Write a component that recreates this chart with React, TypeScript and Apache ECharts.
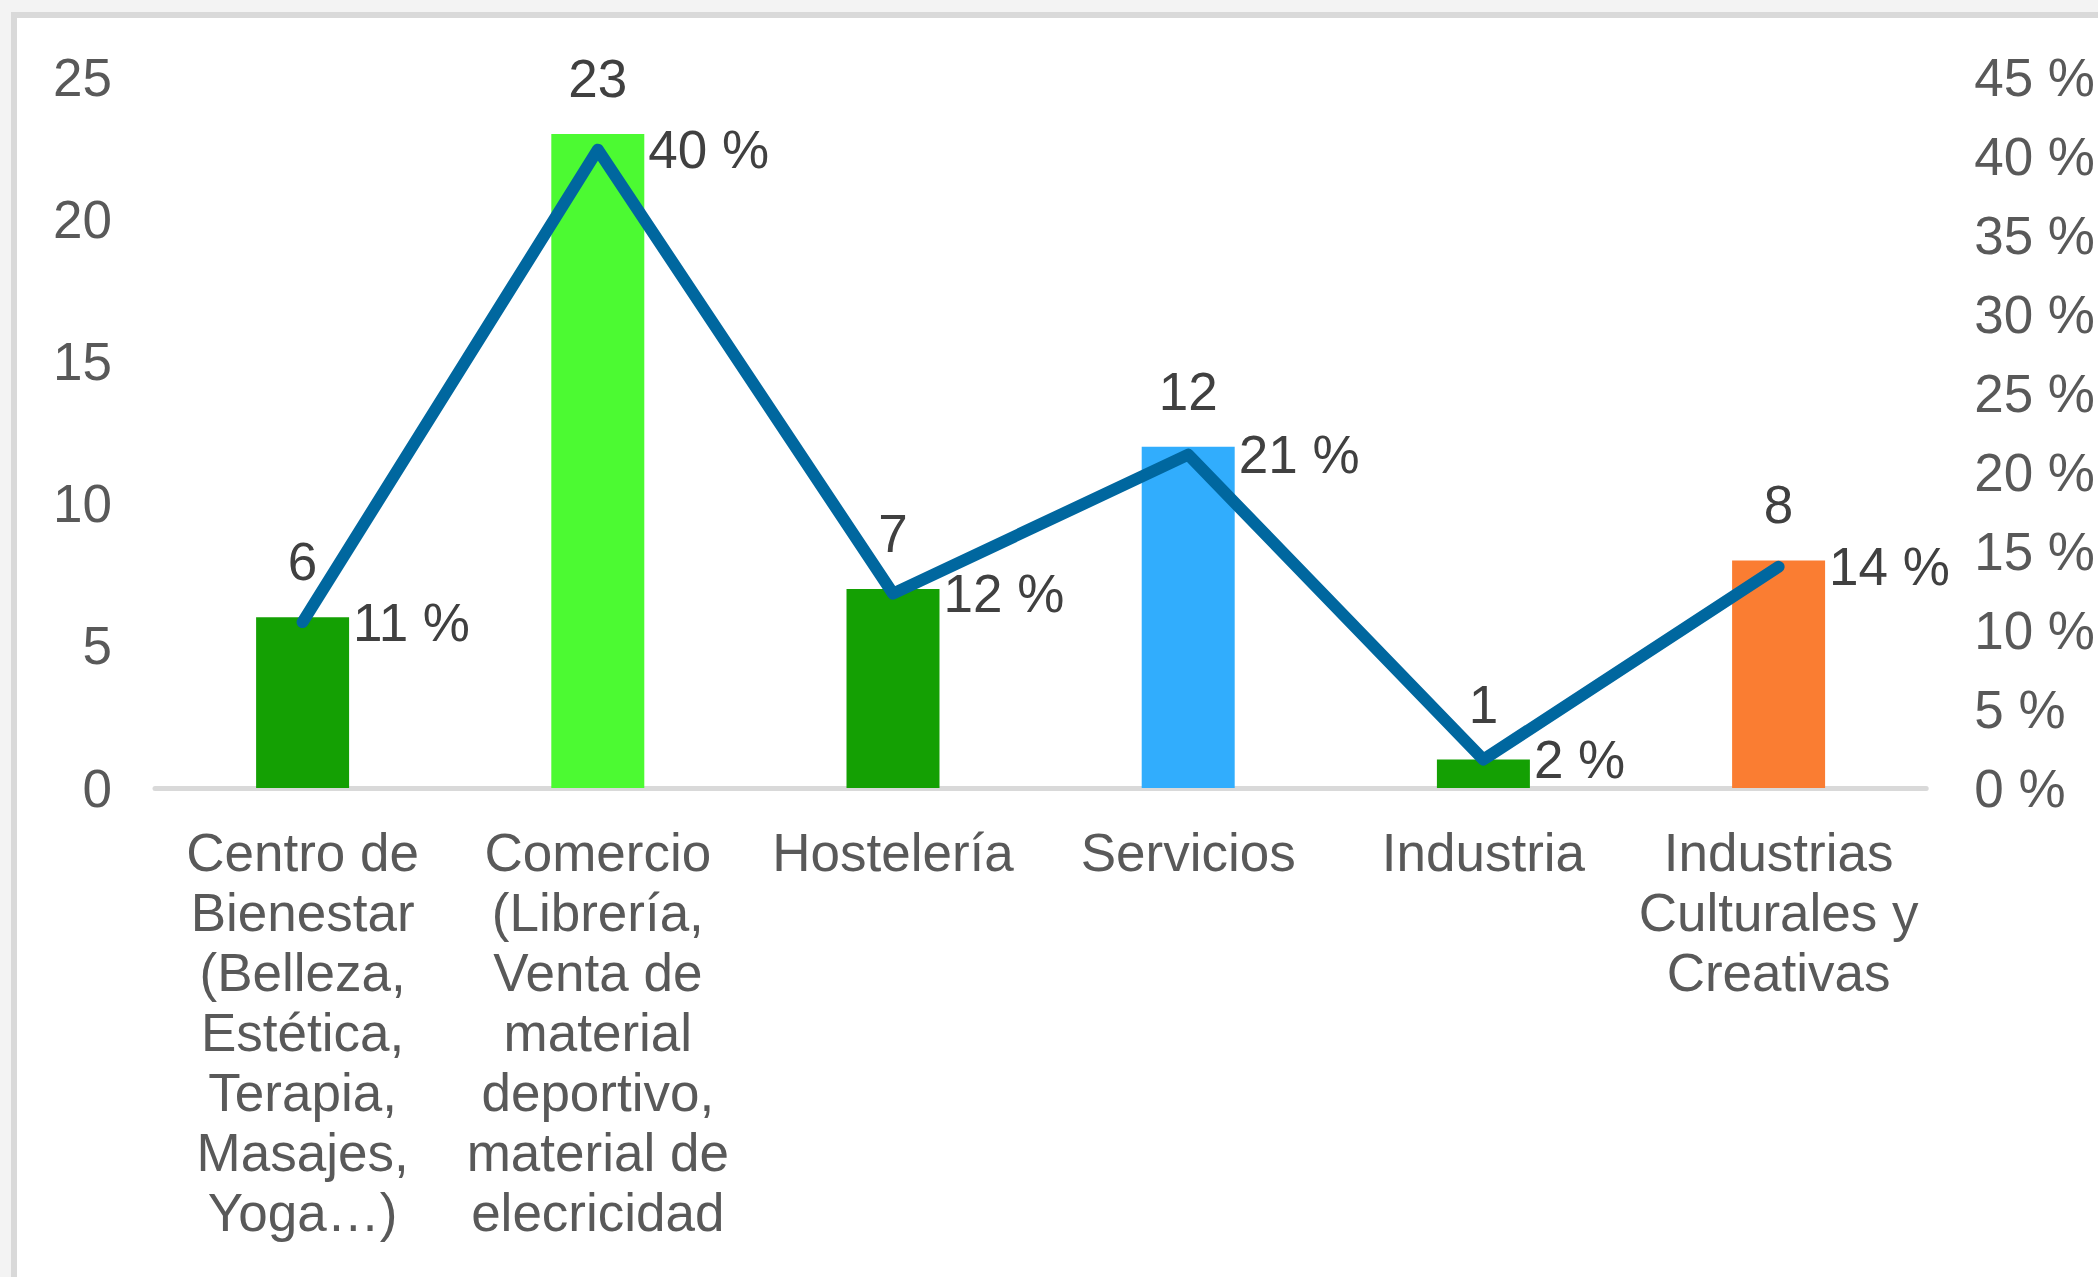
import React, { useEffect, useRef } from "react";
import * as echarts from "echarts";

const categories = [
  "Centro de\nBienestar\n(Belleza,\nEstética,\nTerapia,\nMasajes,\nYoga…)",
  "Comercio\n(Librería,\nVenta de\nmaterial\ndeportivo,\nmaterial de\nelecricidad",
  "Hostelería",
  "Servicios",
  "Industria",
  "Industrias\nCulturales y\nCreativas",
];
const counts = [6, 23, 7, 12, 1, 8];
const percents = [10.5, 40.4, 12.3, 21.1, 1.8, 14.0];
const barColors = ["#14a003", "#4cfa32", "#14a003", "#31adfd", "#14a003", "#fa7d32"];
const leftTicks = { min: 0, max: 25, interval: 5 };
const rightTicks = { min: 0, max: 45, interval: 5 };

const FONT = "'Liberation Sans', Arial, sans-serif";

export default function App() {
  const ref = useRef<HTMLDivElement>(null);

  useEffect(() => {
    if (!ref.current) return;
    const chart = echarts.init(ref.current, undefined, { renderer: "svg" });
    chart.setOption({
      animation: false,
      textStyle: { fontFamily: FONT },
      grid: { left: 155, right: 171, top: 77, bottom: 489, containLabel: false },
      xAxis: {
        type: "category",
        data: categories,
        axisTick: { show: false },
        axisLine: { show: true, lineStyle: { color: "#d9d9d9", width: 5 } },
        axisLabel: {
          interval: 0,
          fontSize: 53,
          lineHeight: 60,
          color: "#595959",
          margin: 34,
          fontFamily: FONT,
        },
      },
      yAxis: [
        {
          type: "value",
          min: leftTicks.min,
          max: leftTicks.max,
          interval: leftTicks.interval,
          splitLine: { show: false },
          axisLine: { show: false },
          axisTick: { show: false },
          axisLabel: { fontSize: 53, color: "#595959", margin: 43, fontFamily: FONT },
        },
        {
          type: "value",
          position: "right",
          min: rightTicks.min,
          max: rightTicks.max,
          interval: rightTicks.interval,
          splitLine: { show: false },
          axisLine: { show: false },
          axisTick: { show: false },
          axisLabel: {
            fontSize: 53,
            color: "#595959",
            margin: 48,
            align: "left",
            fontFamily: FONT,
            formatter: "{value} %",
          },
        },
      ],
      series: [
        {
          type: "bar",
          yAxisIndex: 0,
          barWidth: "31.5%",
          data: counts.map((v, i) => ({ value: v, itemStyle: { color: barColors[i] } })),
          label: {
            show: true,
            position: "top",
            distance: 29,
            fontSize: 53,
            color: "#404040",
            fontFamily: FONT,
          },
          z: 2,
        },
        {
          type: "line",
          yAxisIndex: 1,
          data: percents,
          symbol: "circle",
          symbolSize: 1,
          showSymbol: true,
          itemStyle: { color: "#00679f" },
          lineStyle: { color: "#00679f", width: 12, join: "round", cap: "round" },
          label: {
            show: true,
            position: "right",
            distance: 50,
            fontSize: 53,
            color: "#404040",
            fontFamily: FONT,
            formatter: (p: any) => Math.round(p.value) + " %",
          },
          z: 3,
        },
      ],
    });
    return () => chart.dispose();
  }, []);

  return (
    <div
      style={{
        position: "fixed",
        left: 0,
        top: 0,
        width: 2098,
        height: 1277,
        background: "#f3f3f3",
        overflow: "hidden",
      }}
    >
      <div
        style={{
          position: "absolute",
          left: 11,
          top: 12,
          right: -20,
          bottom: -20,
          background: "#ffffff",
          borderLeft: "6px solid #d9d9d9",
          borderTop: "6px solid #d9d9d9",
        }}
      />
      <div
        ref={ref}
        style={{ position: "absolute", left: 0, top: 0, width: 2098, height: 1277 }}
      />
    </div>
  );
}
